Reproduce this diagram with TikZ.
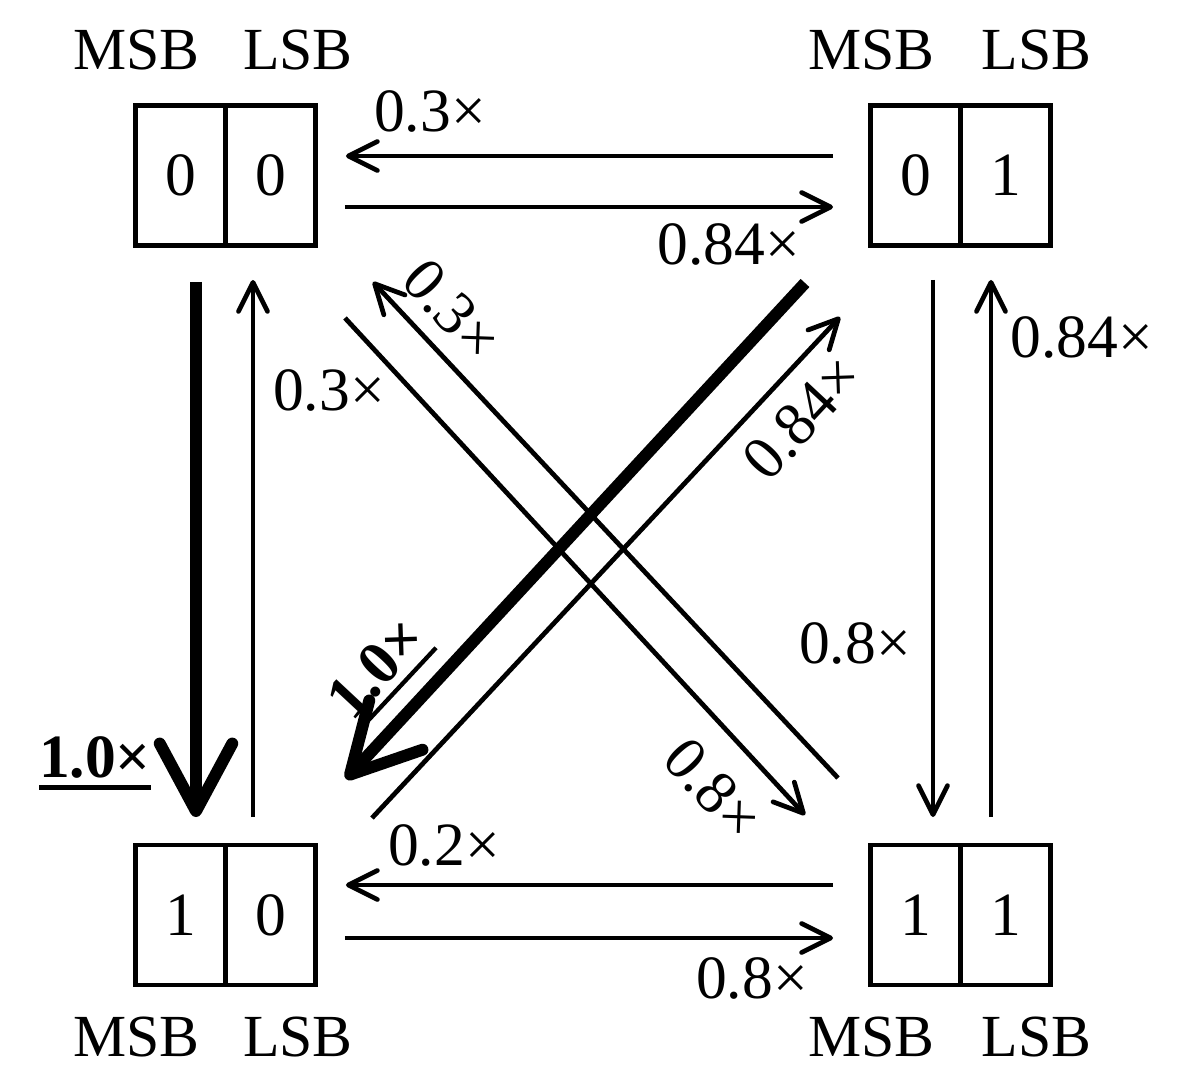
\documentclass[tikz,border=0pt]{standalone}
\usepackage{fontspec}
\setmainfont{Liberation Serif}
\usepackage{tikz}
\usetikzlibrary{positioning, arrows.meta}

% fett mit kraeftiger Unterstreichung
\newcommand{\ulbold}[1]{\setbox0=\hbox{\textbf{#1}}%
  \rlap{\rule[-0.2em]{\wd0}{0.07em}}\box0}

\begin{document}
\begin{tikzpicture}[
        x=0.02cm, y=-0.02cm,
        bitbox/.style={draw, line width=2.6pt, minimum width=1.8cm,
          minimum height=2.8cm, inner sep=0pt, outer sep=0pt,
          font=\fontsize{35}{40}\selectfont},
        tag/.style={inner sep=0pt, font=\fontsize{34}{40}\selectfont},
        prob/.style={inner sep=0pt, font=\fontsize{35}{40}\selectfont},
        edgearr/.style={-{Straight Barb[length=0.58cm, width=0.58cm, round]},
          line width=2.7pt},
        boldarr/.style={-{Straight Barb[length=1.35cm, width=1.45cm, round]},
          line width=6.8pt},
      ]
      \useasboundingbox (0,0) rectangle (1194,1076);

      % Zustaende: MSB | LSB
      \node[bitbox] (m00) at (180.5,175.5) {0};
      \node[bitbox, right=0pt of m00] (l00) {0};
      \node[bitbox] (m01) at (915.5,175.5) {0};
      \node[bitbox, right=0pt of m01] (l01) {1};
      \node[bitbox] (m10) at (180.5,915) {1};
      \node[bitbox, right=0pt of m10] (l10) {0};
      \node[bitbox] (m11) at (915.5,915) {1};
      \node[bitbox, right=0pt of m11] (l11) {1};

      % Beschriftung der Bits
      \node[tag] (t00m) at (136.5,50) {MSB};
      \node[tag] (t00l) at (298,50) {LSB};
      \node[tag] (t01m) at (871.5,50) {MSB};
      \node[tag] (t01l) at (1036.5,50) {LSB};
      \node[tag] (t10m) at (136.5,1037.5) {MSB};
      \node[tag] (t10l) at (298,1037.5) {LSB};
      \node[tag] (t11m) at (871.5,1037.5) {MSB};
      \node[tag] (t11l) at (1036.5,1037.5) {LSB};

      % horizontale Uebergaenge
      \draw[edgearr] ([shift={(-37.5,-19.5)}]m01.west) -- ([shift={(30.5,-19.5)}]l00.east);
      \draw[edgearr] ([shift={(29.5,31.5)}]l00.east) -- ([shift={(-37.5,31.5)}]m01.west);
      \draw[edgearr] ([shift={(-37.5,-30)}]m11.west) -- ([shift={(30.5,-30)}]l10.east);
      \draw[edgearr] ([shift={(29.5,23)}]l10.east) -- ([shift={(-37.5,23)}]m11.west);

      % vertikale Uebergaenge
      \draw[boldarr] ([shift={(15.5,36.5)}]m00.south) -- ([shift={(15.5,-28)}]m10.north);
      \draw[edgearr] ([shift={(-17.5,-28)}]l10.north) -- ([shift={(-17.5,34.5)}]l00.south);
      \draw[edgearr] ([shift={(17.5,34.5)}]m01.south) -- ([shift={(17.5,-28)}]m11.north);
      \draw[edgearr] ([shift={(-14.5,-28)}]l11.north) -- ([shift={(-14.5,34.5)}]l01.south);

      % diagonale Uebergaenge
      \draw[edgearr] ([shift={(-32.5,-67)}]m11.north west) -- ([shift={(57.5,36.5)}]l00.south east);
      \draw[edgearr] ([shift={(29.5,72.5)}]l00.south east) -- ([shift={(-65.5,-30)}]m11.north west);
      \draw[edgearr] ([shift={(56.5,-27)}]l10.north east) -- ([shift={(-30.5,71.5)}]m01.south west);
      \draw[boldarr] ([shift={(-65.5,37.5)}]m01.south west) -- ([shift={(30.5,-66)}]l10.north east);

      % Faktoren
      \node[prob] (p1) at (430,111) {0.3×};
      \node[prob] (p2) at (729,244) {0.84×};
      \node[prob] (p3) at (444,845) {0.2×};
      \node[prob] (p4) at (752,978) {0.8×};
      \node[prob] (p5) at (95,763) {\ulbold{1.0×}};
      \node[prob] (p6) at (329,390) {0.3×};
      \node[prob] (p7) at (855,643) {0.8×};
      \node[prob] (p8) at (1082,337) {0.84×};
      \node[prob, rotate=-47] (p9) at (452,310) {0.3×};
      \node[prob, rotate=-47] (p10) at (713,789) {0.8×};
      \node[prob, rotate=47] (p11) at (802,418) {0.84×};
      \node[prob, rotate=47] (p12) at (380,672) {\ulbold{1.0×}};

    \end{tikzpicture}
\end{document}
